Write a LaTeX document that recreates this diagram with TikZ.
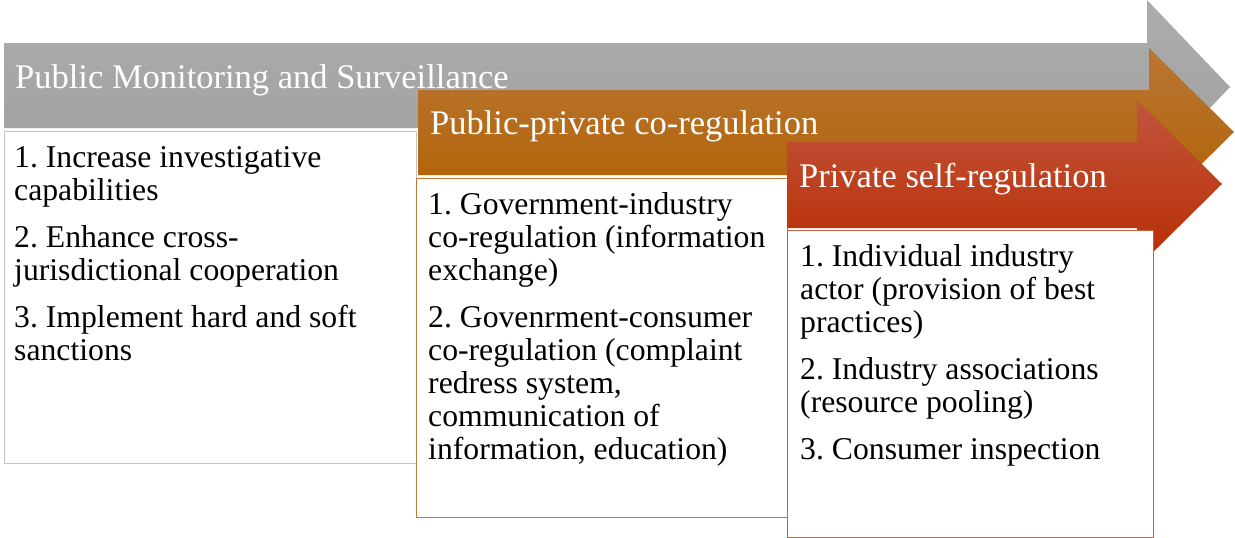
\documentclass[tikz,border=0pt]{standalone}
\usepackage{fontspec}
\setmainfont{Liberation Serif}
\usetikzlibrary{positioning}
\frenchspacing

\definecolor{grayTop}{HTML}{ACACAC}
\definecolor{grayBot}{HTML}{A0A0A0}
\definecolor{orangeTop}{HTML}{BA7634}
\definecolor{orangeBot}{HTML}{B06000}
\definecolor{redTop}{HTML}{C2553E}
\definecolor{redBot}{HTML}{B82C00}
\definecolor{grayLine}{HTML}{C4C4C4}
\definecolor{orangeLine}{HTML}{C27A34}
\definecolor{redLine}{HTML}{C65E40}

\begin{document}
\begin{tikzpicture}[x=1pt,y=-1pt,
  stagetitle/.style={anchor=base west,text=white,inner sep=0pt,
    font=\fontsize{34.5}{40}\selectfont},
  stagebox/.style={anchor=north west,line width=1pt,fill=white,inner sep=0pt},
  stagetext/.style={anchor=north west,align=left,inner sep=0pt,
    font=\fontsize{31.7}{33}\selectfont}]
  \useasboundingbox (0,0) rectangle (1235,538);

  % public monitoring
  \shade[top color=grayTop,bottom color=grayBot]
    (4,43) -- (1147,43) -- (1147,0) -- (1230,87) -- (1147,174) -- (1147,128) -- (4,128) -- cycle;
  \node[stagetitle] (pubtitle) at (15,88) {Public Monitoring and Surveillance};
  \node[stagebox,draw=grayLine,minimum width=412pt,minimum height=332pt] (pubbox) at (4,131) {};
  \node[stagetext] (pubtext) at (14,146) {1. Increase investigative\\ capabilities\\[14pt]
    2. Enhance cross-\\ jurisdictional cooperation\\[14pt]
    3. Implement hard and soft\\ sanctions};

  % public-private
  \shade[top color=orangeTop,bottom color=orangeBot]
    (418,90) -- (1149,90) -- (1149,48) -- (1234,132) -- (1149,216) -- (1149,175) -- (418,175) -- cycle;
  \node[stagetitle] (cotitle) at (430,134) {Public-private co-regulation};
  \node[stagebox,draw=orangeLine,minimum width=371pt,minimum height=339pt] (cobox) at (416,178) {};
  \node[stagetext] (cotext) at (428,192) {1. Government-industry\\ co-regulation (information\\ exchange)\\[14pt]
    2. Govenrment-consumer\\ co-regulation (complaint\\ redress system,\\ communication of\\ information, education)};

  % private self-regulation
  \shade[top color=redTop,bottom color=redBot]
    (787,142) -- (1137,142) -- (1137,100) -- (1222,184) -- (1137,268) -- (1137,228) -- (787,228) -- cycle;
  \node[stagetitle] (selftitle) at (799,187) {Private self-regulation};
  \node[stagebox,draw=redLine,minimum width=366pt,minimum height=307pt] (selfbox) at (787,230) {};
  \node[stagetext] (selftext) at (800,244) {1. Individual industry\\ actor (provision of best\\ practices)\\[14pt]
    2. Industry associations\\ (resource pooling)\\[14pt]
    3. Consumer inspection};
\end{tikzpicture}
\end{document}
